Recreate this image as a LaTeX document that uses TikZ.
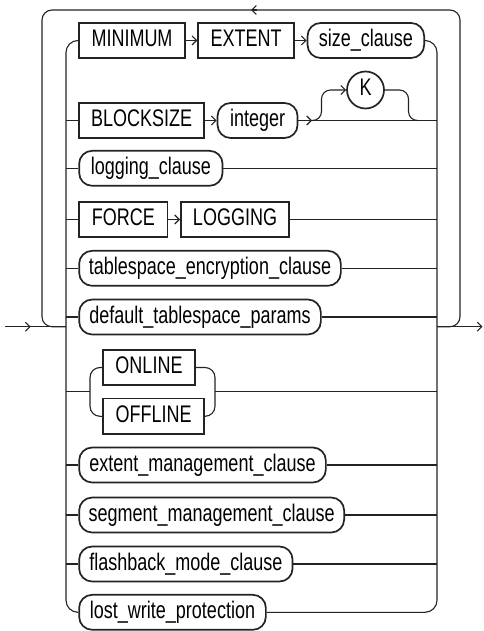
\documentclass[tikz,border=0pt]{standalone}
\usepackage{fontspec}
\setmainfont{Liberation Sans}
\usetikzlibrary{arrows.meta,decorations.markings,calc}
\newcommand\T[1]{\scalebox{0.9}[1.2]{#1}}
\definecolor{ink}{RGB}{35,35,35}
\tikzset{
  myarr/.tip={Straight Barb[length=4.5pt,width=9pt,line width=1.1pt]},
  ln/.style={draw=ink, line width=1.1pt},
  base/.style={draw=ink, line width=1.7pt, inner sep=0pt, anchor=west,
    font=\fontsize{20}{24}\selectfont, text height=17pt, text depth=5pt, text=black},
  kw/.style={base, rectangle, minimum height=35.6pt},
  nt/.style={base, rectangle, rounded corners=13pt, minimum height=35pt},
  circ/.style={base, circle, anchor=center, minimum size=37pt},
  midarr/.style={postaction={decorate}, decoration={markings, mark=at position #1 with {\arrow{myarr}}}}
}
\begin{document}
\begin{tikzpicture}[x=1pt, y=-1pt]
\useasboundingbox (0,0) rectangle (483,631);
% bars
\coordinate (lb) at (66,0);
\coordinate (rb) at (437,0);
\coordinate (olb) at (42,0);
\coordinate (orb) at (460,0);
% row 1
\node[kw, minimum width=105.7pt] (min) at (78.3,40.5) {\T{MINIMUM}};
\node[kw, minimum width=96pt] (ext) at (197.3,40.5) {\T{EXTENT}};
\node[nt, minimum width=116.6pt] (size) at (306.7,40.5) {\T{size\_clause}};
% row 2
\node[kw, minimum width=125pt] (blk) at (78.3,120.5) {\T{BLOCKSIZE}};
\node[nt, minimum width=80pt] (int) at (216.7,120.5) {\T{integer}};
\node[circ] (K) at (365.5,90) {\T{K}};
% row 3..
\node[nt, minimum width=143.4pt] (log) at (78.3,168.3) {\T{logging\_clause}};
\node[kw, minimum width=88.4pt] (force) at (78.3,219.5) {\T{FORCE}};
\node[kw, minimum width=108.3pt] (logg) at (180,219.5) {\T{LOGGING}};
\node[nt, minimum width=261.7pt] (tec) at (78.3,268.3) {\T{tablespace\_encryption\_clause}};
\node[nt, minimum width=241.7pt] (dtp) at (78.3,317) {\T{default\_tablespace\_params}};
\node[kw, minimum width=91.7pt] (on) at (102.3,367.5) {\T{ONLINE}};
\node[kw, minimum width=101pt] (off) at (102.3,416.3) {\T{OFFLINE}};
\node[nt, minimum width=246.7pt] (emc) at (78.3,465) {\T{extent\_management\_clause}};
\node[nt, minimum width=265pt] (smc) at (78.3,515) {\T{segment\_management\_clause}};
\node[nt, minimum width=213.4pt] (fmc) at (78.3,564) {\T{flashback\_mode\_clause}};
\node[nt, minimum width=186.7pt] (lwp) at (78.3,612.3) {\T{lost\_write\_protection}};

% main entry / exit and outer loop
\coordinate (start) at (5,326.7);
\coordinate (entry) at (66,326.7);
\coordinate (exitbar) at (437,326.7);
\coordinate (finish) at (482.5,326.7);
\draw[ln, midarr=0.42] (start) -- (entry);
\draw[ln, -myarr] (exitbar) -- (finish);
\draw[ln, rounded corners=10pt] (exitbar) -| (orb |- 0,10) -| (olb |- entry) -- (entry);
\coordinate (toparr) at (251,10);
\draw[ln, -myarr] ($(toparr)+(6,0)$) -- (toparr);

% inner bars
\draw[ln, rounded corners=12pt] (min.west) -| (lb |- entry) |- (lwp.west);
\draw[ln, rounded corners=12pt] (size.east) -| (rb |- entry) |- (lwp.east);

% row 1
\draw[ln, -myarr] (min) -- (ext);
\draw[ln, -myarr] (ext) -- (size);
% row 2
\coordinate (kfork) at (312,120.5);
\coordinate (kup) at (321.5,90);
\coordinate (kdn) at (408.5,120.5);
\coordinate (kjoin) at (418,120.5);
\draw[ln, -myarr] (blk) -- (int);
\draw[ln, -myarr] (int.east) -- (kfork);
\draw[ln] (kfork) -- (kfork -| rb);
\draw[ln, rounded corners=9pt, -myarr] (kfork) -| (kup) -- (K.west);
\draw[ln, rounded corners=9pt] (K.east) -| (kdn) -- (kjoin);
% simple rows
\foreach \n in {blk,log,force,tec,dtp,emc,smc,fmc}
  \draw[ln] (\n.west -| lb) -- (\n.west);
\foreach \n in {log,logg,tec,dtp,emc,smc,fmc}
  \draw[ln] (\n.east) -- (\n.east -| rb);
\draw[ln, -myarr] (force) -- (logg);
% online / offline
\coordinate (ofl) at (90,391.7);
\coordinate (ofr) at (215,391.7);
\draw[ln] (ofl -| lb) -- (ofl);
\draw[ln, rounded corners=10pt] (on.west) -| (ofl) |- (off.west);
\draw[ln, rounded corners=10pt] (on.east) -| (ofr) |- (off.east);
\draw[ln] (ofr) -- (ofr -| rb);
\end{tikzpicture}
\end{document}
